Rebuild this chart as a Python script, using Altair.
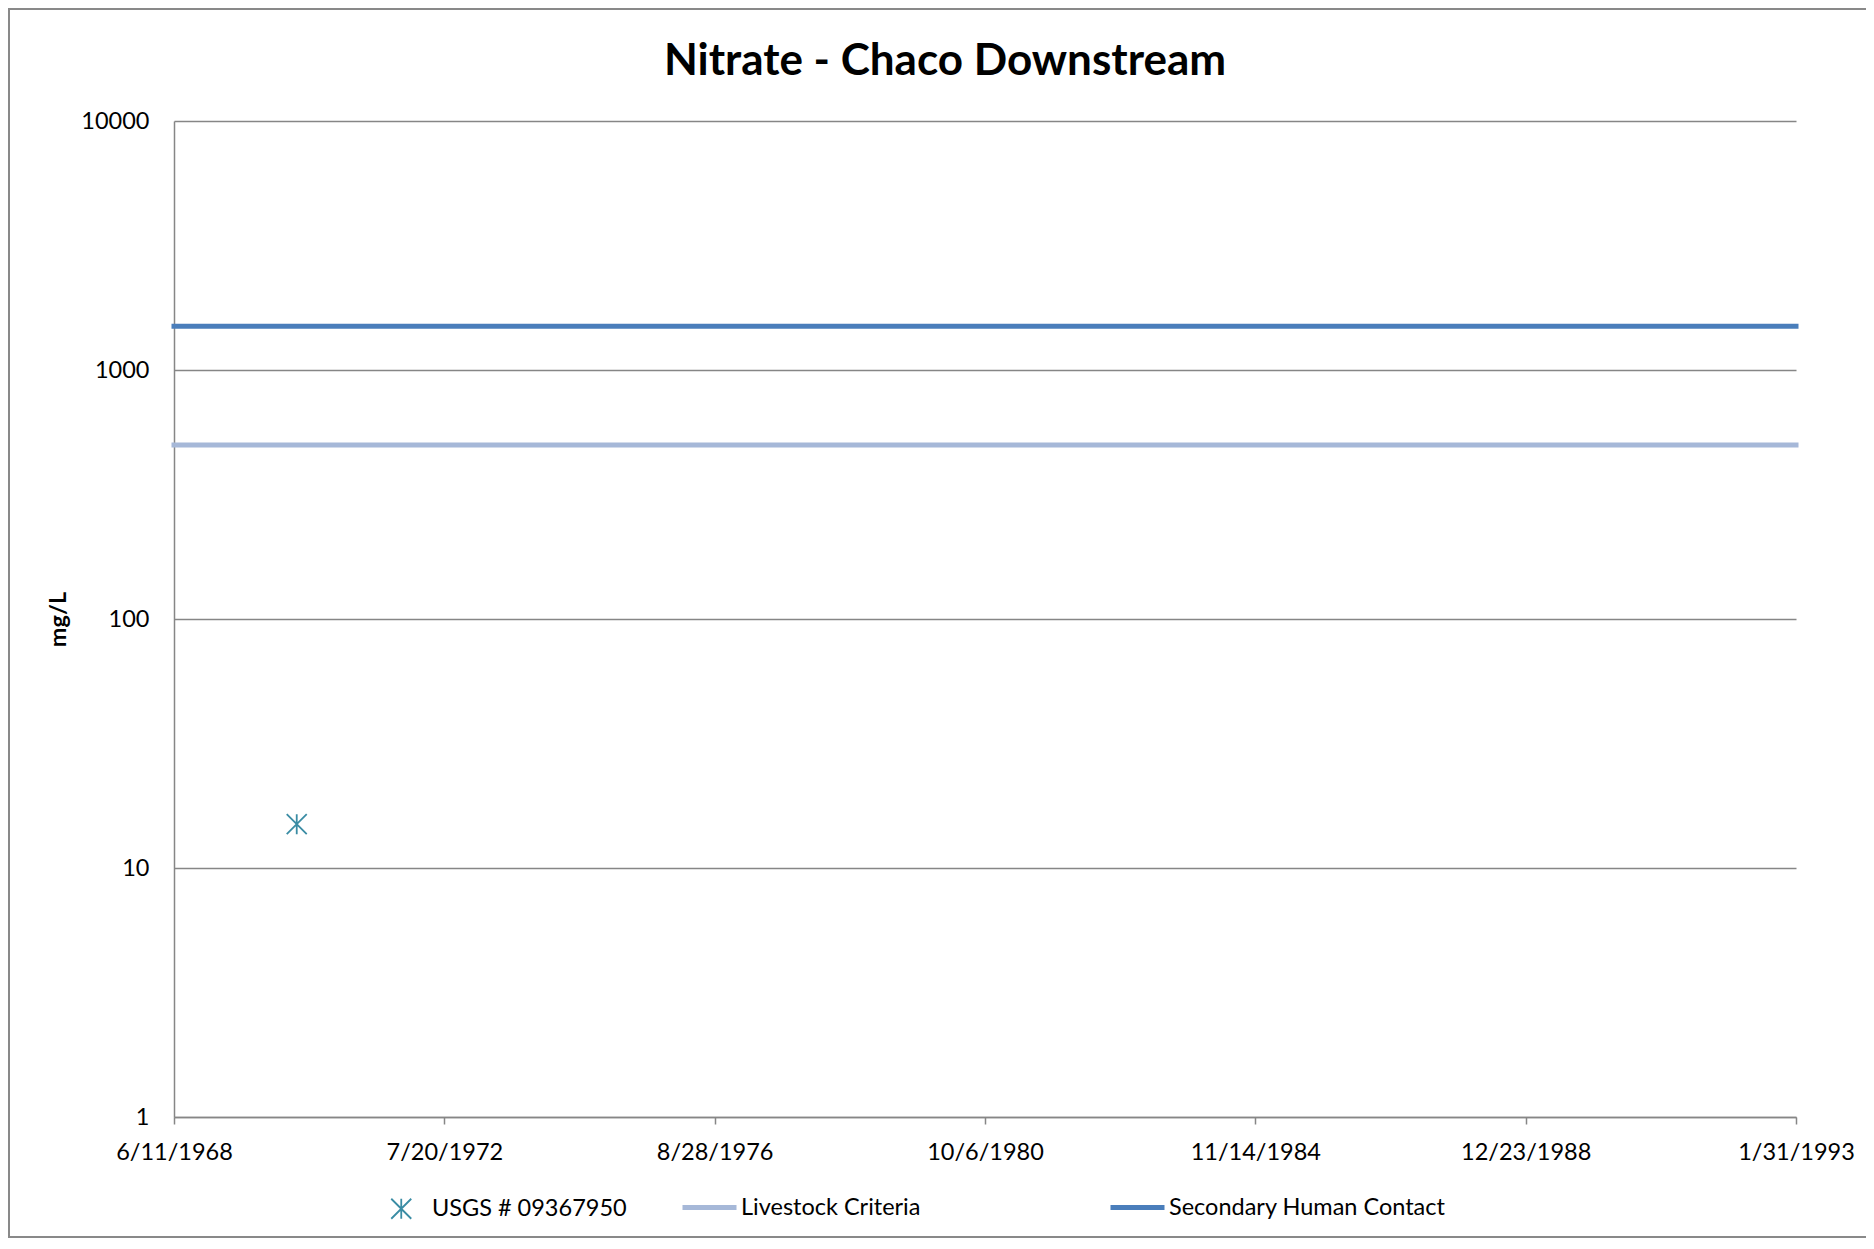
import altair as alt
import pandas as pd

# ---- data ----
sample_dates = ["1970-04-23T00:00:00"]
sample_values = [15]
sample_series = ["USGS # 09367950"]

criteria_names = ["Livestock Criteria", "Secondary Human Contact"]
criteria_values = [500, 1500]
criteria_colors = ["#A6B8D8", "#4A7EBB"]

x_tick_dates = [(1968, 6, 11), (1972, 7, 20), (1976, 8, 28), (1980, 10, 6),
                (1984, 11, 14), (1988, 12, 23), (1993, 1, 31)]
y_ticks = [1, 10, 100, 1000, 10000]

TITLE = "Nitrate - Chaco Downstream"
Y_TITLE = "mg/L"

# ---- style ----
FONT = "Lato"
FS = 23.5
GRAY = "#868686"
TEAL = "#3A8CA4"
W, H = 1622, 996
PAD = {"left": 166, "top": 113, "right": 70, "bottom": 122}
STAR = "M-1,-1L1,1M-1,1L1,-1M0,-1L0,1"

ticks_dt = [alt.DateTime(year=y, month=m, date=d) for y, m, d in x_tick_dates]

samples = pd.DataFrame({"date": sample_dates, "value": sample_values,
                        "series": sample_series})
criteria = pd.DataFrame({"series": criteria_names, "value": criteria_values})

y_scale = alt.Scale(type="log", domain=[y_ticks[0], y_ticks[-1]], nice=False)
y_axis = alt.Axis(values=y_ticks, format="d", title=Y_TITLE,
                  titleFont=FONT, titleFontSize=FS, titleFontWeight="bold",
                  titleColor="black", titleAngle=270, titleX=-109, titleY=H / 2,
                  titleAlign="center", titleBaseline="alphabetic",
                  labelFont=FONT, labelFontSize=FS, labelColor="black",
                  labelPadding=25, ticks=False, grid=True, gridColor=GRAY,
                  gridWidth=1.5, domainColor=GRAY, domainWidth=1.5)

x_axis = alt.Axis(values=ticks_dt, format="%-m/%-d/%Y", title=None, grid=False,
                  labelFont=FONT, labelFontSize=FS, labelColor="black",
                  labelPadding=16, labelFlush=False, labelOverlap=False,
                  tickSize=7, tickColor=GRAY, tickWidth=1.5,
                  domainColor=GRAY, domainWidth=1.5)

border = alt.Chart(pd.DataFrame({"k": [0]})).mark_rect(
    fill=None, stroke="#898989", strokeWidth=2
).encode(
    x=alt.value(-PAD["left"] + 1), x2=alt.value(W + 300),
    y=alt.value(-PAD["top"] + 1), y2=alt.value(H + PAD["bottom"] - 2),
)

lines = alt.Chart(criteria).mark_rule(strokeWidth=5, strokeCap="square").encode(
    y=alt.Y("value:Q", scale=y_scale, axis=y_axis),
    color=alt.Color("series:N",
                    scale=alt.Scale(domain=criteria_names, range=criteria_colors),
                    legend=alt.Legend(title=None, orient="none", legendX=506,
                                      legendY=1057, direction="horizontal",
                                      symbolType="stroke", symbolSize=2916,
                                      symbolStrokeWidth=5, labelOffset=2,
                                      columnPadding=179, padding=0,
                                      labelLimit=0,
                                      labelFont=FONT, labelFontSize=FS,
                                      labelColor="black")),
)

points = alt.Chart(samples).mark_point(
    filled=False, color=TEAL, size=400, strokeWidth=1.8, opacity=1
).encode(
    x=alt.X("date:T", scale=alt.Scale(domain=[ticks_dt[0], ticks_dt[-1]]),
            axis=x_axis),
    y=alt.Y("value:Q", scale=y_scale, axis=y_axis),
    shape=alt.Shape("series:N",
                    scale=alt.Scale(domain=sample_series, range=[STAR]),
                    legend=alt.Legend(title=None, orient="none", legendX=215.5,
                                      legendY=1076, direction="horizontal",
                                      symbolStrokeColor=TEAL,
                                      symbolFillColor="transparent",
                                      symbolSize=400, symbolStrokeWidth=1.8,
                                      labelOffset=19, padding=0, labelLimit=0,
                                      labelFont=FONT, labelFontSize=FS,
                                      labelColor="black")),
)

chart = alt.layer(border, lines, points).resolve_legend(
    color="independent", shape="independent"
).properties(
    width=W, height=H,
    autosize=alt.AutoSizeParams(type="none"),
    padding=PAD,
    title=alt.TitleParams(TITLE, font=FONT, fontSize=44, fontWeight="bold",
                          color="black", anchor="middle", frame="group",
                          dx=-40, dy=37, offset=-74, baseline="alphabetic"),
).configure(background="white").configure_view(stroke="transparent", strokeWidth=0)

chart.save("out.html", embed_options={"renderer": "svg", "actions": False})
